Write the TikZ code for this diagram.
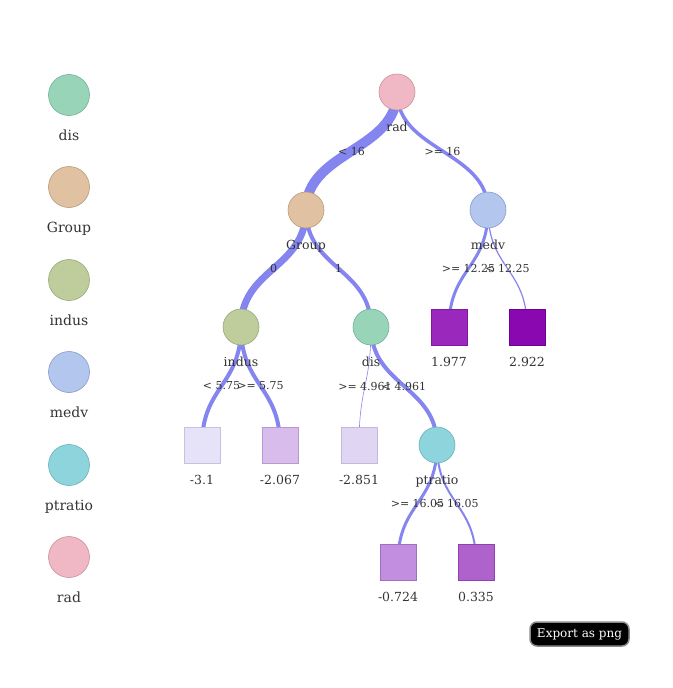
\documentclass[tikz,border=0pt]{standalone}
\usepackage{fontspec}
\setmainfont{DejaVu Serif}
\usetikzlibrary{positioning,calc}
\pgfdeclarelayer{bg}
\pgfsetlayers{bg,main}

\definecolor{edgeblue}{HTML}{8585F0}
\definecolor{txtgray}{HTML}{333333}
% split nodes
\definecolor{radfill}{HTML}{F0B8C4}   \definecolor{raddraw}{HTML}{C89098}
\definecolor{grpfill}{HTML}{E0C2A2}   \definecolor{grpdraw}{HTML}{B89878}
\definecolor{medvfill}{HTML}{B2C6EE}  \definecolor{medvdraw}{HTML}{8898C8}
\definecolor{indfill}{HTML}{BFCC9C}   \definecolor{inddraw}{HTML}{98A878}
\definecolor{disfill}{HTML}{98D4B8}   \definecolor{disdraw}{HTML}{70B098}
\definecolor{ptrfill}{HTML}{8ED4DC}   \definecolor{ptrdraw}{HTML}{68B0B8}
% leaves
\definecolor{lfafill}{HTML}{9A28BC}   \definecolor{lfadraw}{HTML}{8018A0}
\definecolor{lfbfill}{HTML}{8A08B0}   \definecolor{lfbdraw}{HTML}{700098}
\definecolor{lfcfill}{HTML}{E6E2F8}   \definecolor{lfcdraw}{HTML}{C8C0E0}
\definecolor{lfdfill}{HTML}{D8BCEC}   \definecolor{lfddraw}{HTML}{B898D0}
\definecolor{lfefill}{HTML}{E0D6F4}   \definecolor{lfedraw}{HTML}{C4B8DC}
\definecolor{lfffill}{HTML}{C28EE0}   \definecolor{lffdraw}{HTML}{A070C0}
\definecolor{lfgfill}{HTML}{B062CC}   \definecolor{lfgdraw}{HTML}{9040B0}
\definecolor{btnedge}{HTML}{8A8A8A}

\tikzset{
  split/.style={circle, minimum size=36pt, inner sep=0pt, line width=0.6pt},
  legend dot/.style={circle, minimum size=41pt, inner sep=0pt, line width=0.6pt},
  leaf/.style={minimum size=36pt, inner sep=0pt, line width=0.6pt, fill=#1fill, draw=#1draw},
  name lbl/.style={text=txtgray, font=\fontsize{12.5}{14}\selectfont,
    text height=9pt, text depth=2.5pt, inner sep=0pt},
  legend lbl/.style={name lbl, font=\fontsize{14}{16}\selectfont},
  edge lbl/.style={text=txtgray, font=\fontsize{11}{12}\selectfont, inner sep=0pt},
  curve/.style={out=-90, in=90, out distance=59pt, in distance=59pt}
}

\newcommand{\treeedge}[4]{%
  \begin{pgfonlayer}{bg}
    \draw[edgeblue, line width=#3] (#1.center) to[curve] (#2.center);
  \end{pgfonlayer}
  \path (#1.center) to[curve] node[edge lbl]{#4} (#2.center);
}

\begin{document}
\begin{tikzpicture}[x=1pt, y=-1pt]
  \useasboundingbox (0,0) rectangle (672,688);

  % legend
  \node[legend dot, fill=disfill, draw=disdraw] (ldis) at (69,95) {};
  \node[legend dot, fill=grpfill, draw=grpdraw] (lgrp) at (69,187) {};
  \node[legend dot, fill=indfill, draw=inddraw] (lind) at (69,280) {};
  \node[legend dot, fill=medvfill, draw=medvdraw] (lmedv) at (69,372) {};
  \node[legend dot, fill=ptrfill, draw=ptrdraw] (lptr) at (69,465) {};
  \node[legend dot, fill=radfill, draw=raddraw] (lrad) at (69,557) {};
  \foreach \n/\t in {ldis/dis, lgrp/Group, lind/indus, lmedv/medv, lptr/ptratio, lrad/rad}
    \node[legend lbl] at ($(\n.center)+(0,42)$) {\t};

  % splits
  \node[split, fill=radfill, draw=raddraw] (rad) at (397,92) {};
  \node[split, fill=grpfill, draw=grpdraw] (grp) at (306,210) {};
  \node[split, fill=medvfill, draw=medvdraw] (medv) at (488,210) {};
  \node[split, fill=indfill, draw=inddraw] (indus) at (241,327) {};
  \node[split, fill=disfill, draw=disdraw] (dis) at (371,327) {};
  \node[split, fill=ptrfill, draw=ptrdraw] (ptr) at (437,445) {};

  % leaves
  \node[leaf=lfa] (lfa) at (449,327) {};
  \node[leaf=lfb] (lfb) at (527,327) {};
  \node[leaf=lfc] (lfc) at (202,445) {};
  \node[leaf=lfd] (lfd) at (280,445) {};
  \node[leaf=lfe] (lfe) at (359,445) {};
  \node[leaf=lff] (lff) at (398,562) {};
  \node[leaf=lfg] (lfg) at (476,562) {};

  \foreach \n/\t in {rad/rad, grp/Group, medv/medv, indus/indus, dis/dis, ptr/ptratio,
      lfa/1.977, lfb/2.922, lfc/-3.1, lfd/-2.067, lfe/-2.851, lff/-0.724, lfg/0.335}
    \node[name lbl] at ($(\n.center)+(0,36.5)$) {\t};

  % edges
  \treeedge{rad}{grp}{10pt}{< 16}
  \treeedge{rad}{medv}{3.5pt}{>= 16}
  \treeedge{grp}{indus}{7pt}{0}
  \treeedge{grp}{dis}{4pt}{1}
  \treeedge{medv}{lfa}{3pt}{>= 12.25}
  \treeedge{medv}{lfb}{1.2pt}{< 12.25}
  \treeedge{indus}{lfc}{4pt}{< 5.75}
  \treeedge{indus}{lfd}{4pt}{>= 5.75}
  \treeedge{dis}{lfe}{0.6pt}{>= 4.961}
  \treeedge{dis}{ptr}{4pt}{< 4.961}
  \treeedge{ptr}{lff}{3pt}{>= 16.05}
  \treeedge{ptr}{lfg}{2pt}{< 16.05}

  % export button
  \node[draw=btnedge, line width=1.5pt, fill=black, rounded corners=7pt,
    text=white, font=\fontsize{12}{13}\selectfont, minimum width=99pt,
    minimum height=24pt, inner sep=0pt] (export) at (579.5,634) {Export as png};
\end{tikzpicture}
\end{document}
